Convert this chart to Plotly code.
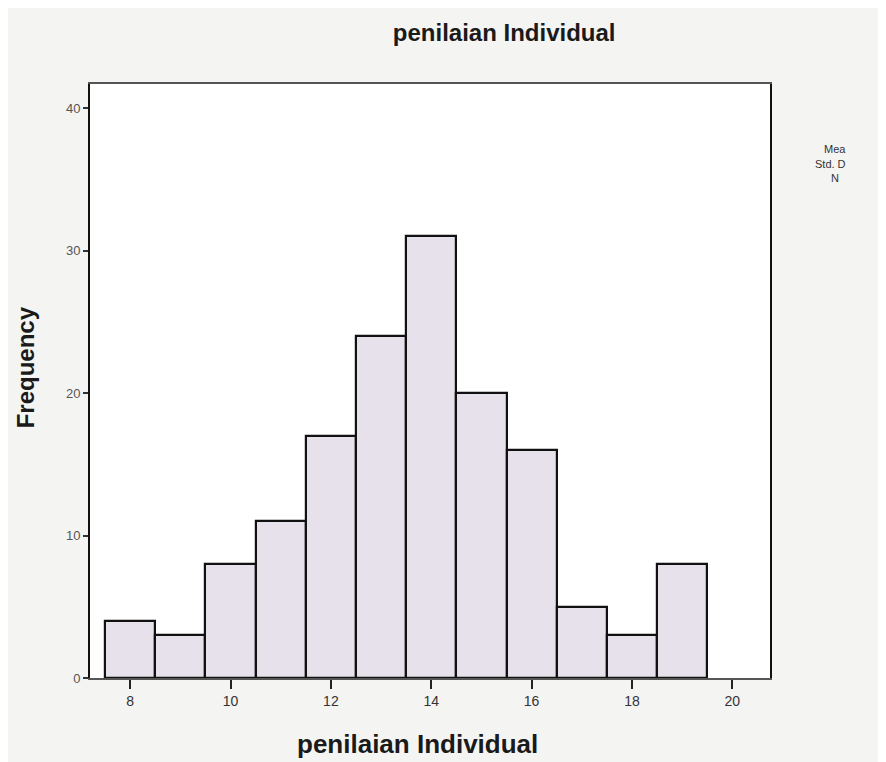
import plotly.graph_objects as go

# Data
bin_centers = [8, 9, 10, 11, 12, 13, 14, 15, 16, 17, 18, 19]
frequencies = [4, 3, 8, 11, 17, 24, 31, 20, 16, 5, 3, 8]
x_ticks = [8, 10, 12, 14, 16, 18, 20]
y_ticks = [0, 10, 20, 30, 40]
title_text = "penilaian Individual"
x_title = "penilaian Individual"
y_title = "Frequency"
stats_labels = ["Mea", "Std. D", "N"]

fig = go.Figure()
fig.add_trace(go.Bar(
    x=bin_centers,
    y=frequencies,
    width=1,
    marker=dict(color="#e6e1ea", line=dict(color="#111111", width=2.2)),
    showlegend=False,
))

fig.update_layout(
    width=886, height=762,
    margin=dict(l=82, r=124, t=76, b=92),
    paper_bgcolor="#f4f4f3",
    plot_bgcolor="#ffffff",
    font=dict(family="Liberation Sans, Arial, sans-serif", color="#333333"),
    title=dict(text="<b>" + title_text + "</b>", x=0.56, xanchor="center", y=0.968, yanchor="middle",
               font=dict(size=24, color="#1a1a1a", family="Liberation Sans, Arial, sans-serif")),
    bargap=0,
)

fig.update_xaxes(
    range=[7.2, 20.75],
    tickvals=x_ticks,
    ticks="outside", ticklen=9, tickwidth=2, tickcolor="#222222",
    tickfont=dict(size=14, color="#333333"),
    showgrid=False, zeroline=False,
    showline=True, linecolor="#555555", linewidth=1.5, mirror=True,
)
fig.update_yaxes(
    range=[0, 41.7],
    tickvals=y_ticks,
    ticks="outside", ticklen=5, tickwidth=1.5, tickcolor="#333333",
    tickfont=dict(size=13, color="#555555"),
    showgrid=False, zeroline=False,
    showline=True, linecolor="#111111", linewidth=2, mirror=True,
)

# Axis titles placed as annotations to match the reference positions
fig.add_annotation(
    text="<b>" + x_title + "</b>", xref="paper", yref="paper",
    x=0.482, y=-0.111, xanchor="center", yanchor="middle", showarrow=False,
    font=dict(size=26, color="#1a1a1a"),
)
fig.add_annotation(
    text="<b>" + y_title + "</b>", xref="paper", yref="paper",
    x=-0.0956, y=0.523, xanchor="center", yanchor="middle", showarrow=False,
    textangle=-90, font=dict(size=24, color="#1a1a1a"),
)

# Truncated statistics legend on the right
for i, lab in enumerate(stats_labels):
    fig.add_annotation(
        text=lab, xref="paper", yref="paper",
        x=1.115 - (0.01 if i == 2 else 0), y=0.89 - i * 0.024,
        xanchor="right", yanchor="middle", showarrow=False,
        font=dict(size=11, color="#333333"),
    )

fig.write_html("out.html")
